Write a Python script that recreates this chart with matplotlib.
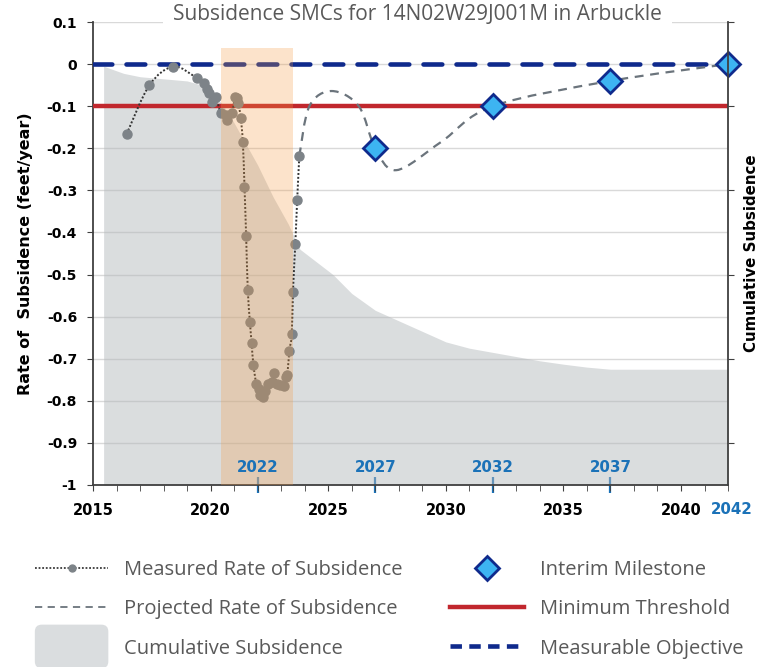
"""Subsidence SMC chart for well 14N02W29J001M (Arbuckle)."""

import matplotlib

matplotlib.use("Agg")

import matplotlib.pyplot as plt
import matplotlib.transforms as mtransforms
import numpy as np
from matplotlib.lines import Line2D
from matplotlib.patches import FancyBboxPatch, PathPatch, Patch
from matplotlib.legend_handler import HandlerPatch
from matplotlib.path import Path

plt.rcParams["font.family"] = ["Open Sans", "DejaVu Sans"]
BOLD_FONT = ["DejaVu Sans"]

# measured rate of subsidence (feet/year)
measured_year = [
    2016.43, 2017.40, 2018.42, 2019.41, 2019.72, 2019.86, 2019.95, 2020.05, 2020.23,
    2020.43, 2020.66, 2020.71, 2020.90, 2021.04, 2021.14, 2021.18, 2021.28, 2021.37,
    2021.44, 2021.51, 2021.58, 2021.67, 2021.74, 2021.82, 2021.94, 2022.04, 2022.11,
    2022.22, 2022.32, 2022.46, 2022.60, 2022.70, 2022.81, 2022.96, 2023.10, 2023.21,
    2023.26, 2023.35, 2023.45, 2023.50, 2023.60, 2023.68, 2023.77,
]
measured_rate = [
    -0.166, -0.050, -0.006, -0.033, -0.046, -0.058, -0.068, -0.090, -0.079,
    -0.117, -0.121, -0.133, -0.117, -0.078, -0.081, -0.093, -0.127, -0.186,
    -0.291, -0.408, -0.537, -0.612, -0.662, -0.715, -0.759, -0.771, -0.786,
    -0.790, -0.776, -0.759, -0.755, -0.735, -0.759, -0.762, -0.764, -0.744,
    -0.739, -0.681, -0.642, -0.541, -0.428, -0.323, -0.219,
]

# projected rate of subsidence
projected_year = [2023.77, 2024.20, 2025.15, 2026.30, 2027.00, 2027.90, 2029.80, 2032.00, 2037.00, 2042.00]
projected_rate = [-0.219, -0.100, -0.064, -0.100, -0.200, -0.252, -0.185, -0.100, -0.040, 0.000]

# cumulative subsidence (shape only, no scale shown)
cumulative_year = [
    2015.45, 2016.3, 2017.0, 2018.0, 2019.0, 2019.5, 2020.0, 2020.5, 2021.0, 2021.4,
    2022.0, 2022.66, 2023.3, 2023.8, 2025.2, 2026.0, 2027.0, 2028.0, 2029.0, 2030.0,
    2031.0, 2032.0, 2033.0, 2034.0, 2035.0, 2036.0, 2037.0, 2042.0,
]
cumulative_value = [
    -0.005, -0.022, -0.030, -0.035, -0.040, -0.048, -0.065, -0.095, -0.140, -0.180,
    -0.240, -0.316, -0.380, -0.440, -0.500, -0.545, -0.585, -0.610, -0.635, -0.660,
    -0.675, -0.685, -0.695, -0.705, -0.713, -0.720, -0.725, -0.725,
]

milestone_year = [2027, 2032, 2037, 2042]
milestone_rate = [-0.20, -0.10, -0.04, 0.00]
milestone_labels = ["2022", "2027", "2032", "2037"]
milestone_label_year = [2022, 2027, 2032, 2037]

minimum_threshold = -0.10
measurable_objective = 0.0
gsp_period = [2020.45, 2023.5]
gsp_period_top = 0.038

NAVY = "#0f2a8c"
RED = "#c1272d"
BLUE_TEXT = "#1b72b8"
TEXT_GRAY = "#595959"


def smooth_path(xs, ys):
    """Catmull-Rom curve through the points (like Excel's smoothed line)."""
    pts = np.column_stack([xs, ys]).astype(float)
    ext = np.vstack([pts[0], pts, pts[-1]])
    verts = [pts[0]]
    codes = [Path.MOVETO]
    for i in range(1, len(ext) - 2):
        p0, p1, p2, p3 = ext[i - 1], ext[i], ext[i + 1], ext[i + 2]
        verts += [p1 + (p2 - p0) / 6.0, p2 - (p3 - p1) / 6.0, p2]
        codes += [Path.CURVE4] * 3
    return Path(verts, codes)


def rounded_patch(legend, orig_handle, xdescent, ydescent, width, height, fontsize):
    return FancyBboxPatch(
        (-xdescent, -ydescent + height / 2 - 1.55 * height), width, 3.1 * height,
        boxstyle="round,pad=0,rounding_size=5",
    )


fig = plt.figure(figsize=(7.74, 6.67), dpi=100)
ax = fig.add_axes([0.1202, 0.2729, 0.8204, 0.6941])

ax.set_xlim(2015, 2042)
ax.set_ylim(-1, 0.1)

# cumulative subsidence area
ax.fill_between(cumulative_year, cumulative_value, -1, color="#b3b8bb", alpha=0.48, lw=0, zorder=1)

ax.axhline(minimum_threshold, color=RED, lw=3.2, zorder=3)
ax.axhline(measurable_objective, color=NAVY, lw=3.3, dashes=(4.1, 3.1), dash_capstyle="round", zorder=3)

ax.add_patch(PathPatch(smooth_path(projected_year, projected_rate), fill=False,
                       ec="#6b747c", lw=1.6, ls=(0, (4, 3)), zorder=4))
ax.add_patch(PathPatch(smooth_path(measured_year, measured_rate), fill=False,
                       ec="#333333", lw=1.4, ls=(0, (1, 1)), zorder=5))
ax.plot(measured_year, measured_rate, ls="none", marker="o", ms=6.5,
        mfc="#7d8388", mec="#7d8388", zorder=5)

# GSP implementation period shading, drawn over the data
ax.fill_between(gsp_period, -1, gsp_period_top, color="#f59a40", alpha=0.27, lw=0, zorder=6)

ax.plot(milestone_year, milestone_rate, ls="none", marker="D", ms=12.5,
        mfc="#3db4f2", mec=NAVY, mew=2, zorder=7, clip_on=False)

# axes styling
ax.set_yticks(np.round(np.arange(-1.0, 0.11, 0.1), 1))
ax.set_yticklabels(["-1", "-0.9", "-0.8", "-0.7", "-0.6", "-0.5", "-0.4", "-0.3",
                    "-0.2", "-0.1", "0", "0.1"])
ax.set_xticks(range(2015, 2041, 5))
ax.set_xticks(range(2015, 2043), minor=True)
ax.grid(axis="y", color="#d9d9d9", lw=1)
ax.set_axisbelow(True)
for side in ["top", "right"]:
    ax.spines[side].set_visible(False)
for side in ["left", "bottom"]:
    ax.spines[side].set_color("#404040")
    ax.spines[side].set_linewidth(1.3)
ax.tick_params(axis="both", which="major", labelsize=10, length=4.5, color="#404040")
ax.tick_params(axis="x", which="major", labelsize=10.5, pad=8.5)
ax.tick_params(axis="x", which="minor", length=4, color="#404040")
ax.tick_params(axis="y", which="major", pad=7)
for lbl in ax.get_xticklabels() + ax.get_yticklabels():
    lbl.set_fontweight("bold")
    lbl.set_family(BOLD_FONT)
ax.set_ylabel("Rate of  Subsidence (feet/year)", fontsize=11.5, fontweight="bold",
              family=BOLD_FONT, labelpad=10)

# milestone ticks and labels in blue
sec = ax.secondary_xaxis("bottom")
sec.set_xticks(milestone_label_year)
sec.set_xticklabels([])
sec.tick_params(direction="inout", length=11, width=1.6, color=BLUE_TEXT)
sec.spines["bottom"].set_visible(False)
blend = mtransforms.blended_transform_factory(ax.transData, ax.transAxes)
for yr, lab in zip(milestone_label_year, milestone_labels):
    ax.text(yr, 0.022, lab, transform=blend, ha="center", va="bottom", family=BOLD_FONT,
            color=BLUE_TEXT, fontsize=10.8, fontweight="bold", zorder=8)
ax.text(milestone_year[-1] + 0.15, -0.036, str(milestone_year[-1]), transform=blend, ha="center",
        va="top", color=BLUE_TEXT, fontsize=10.8, fontweight="bold", family=BOLD_FONT)

# secondary (cumulative) axis on the right, no labels
ax2 = ax.twinx()
ax2.set_ylim(-1, 0.1)
ax2.set_yticks([0.1, -0.1, -0.3, -0.5, -0.7, -0.9])
ax2.set_yticklabels([])
ax2.tick_params(axis="y", length=4, color="#404040")
for side in ["top", "left", "bottom"]:
    ax2.spines[side].set_visible(False)
ax2.spines["right"].set_color("#404040")
ax2.spines["right"].set_linewidth(1.3)
ax2.set_ylabel("Cumulative Subsidence", fontsize=10.8, fontweight="bold",
               family=BOLD_FONT, labelpad=4)

fig.text(0.5394, 1 - 14 / 667, "Subsidence SMCs for 14N02W29J001M in Arbuckle",
         ha="center", va="center", fontsize=15, color=TEXT_GRAY,
         bbox=dict(fc="white", ec="none", pad=7))

# legend
handles_left = [
    Line2D([], [], color="#3a3a3a", ls=(0, (1, 1)), lw=1.3, marker="o", ms=5,
           mfc="#7d8388", mec="#7d8388"),
    Line2D([], [], color="#6b747c", ls=(0, (4, 3)), lw=1.3),
    Patch(fc="#dadddf", ec="none"),
]
labels_left = ["Measured Rate of Subsidence", "Projected Rate of Subsidence", "Cumulative Subsidence"]
handles_right = [
    Line2D([], [], ls="none", marker="D", ms=12.5, mfc="#3db4f2", mec=NAVY, mew=2),
    Line2D([], [], color=RED, lw=3.2),
    Line2D([], [], color=NAVY, lw=3.3, dashes=(2.5, 1.6)),
]
labels_right = ["Interim Milestone", "Minimum Threshold", "Measurable Objective"]

common = dict(frameon=False, fontsize=14.5, labelcolor=TEXT_GRAY, loc="upper left",
              handlelength=3.65, handletextpad=0.8, labelspacing=0.95, borderpad=0,
              borderaxespad=0, numpoints=1, handler_map={Patch: HandlerPatch(patch_func=rounded_patch)})
fig.legend(handles_left, labels_left, bbox_to_anchor=(0.045, 0.160), **common)
fig.legend(handles_right, labels_right, bbox_to_anchor=(0.582, 0.160), **common)

fig.savefig("out.png", dpi=100)
plt.close(fig)
